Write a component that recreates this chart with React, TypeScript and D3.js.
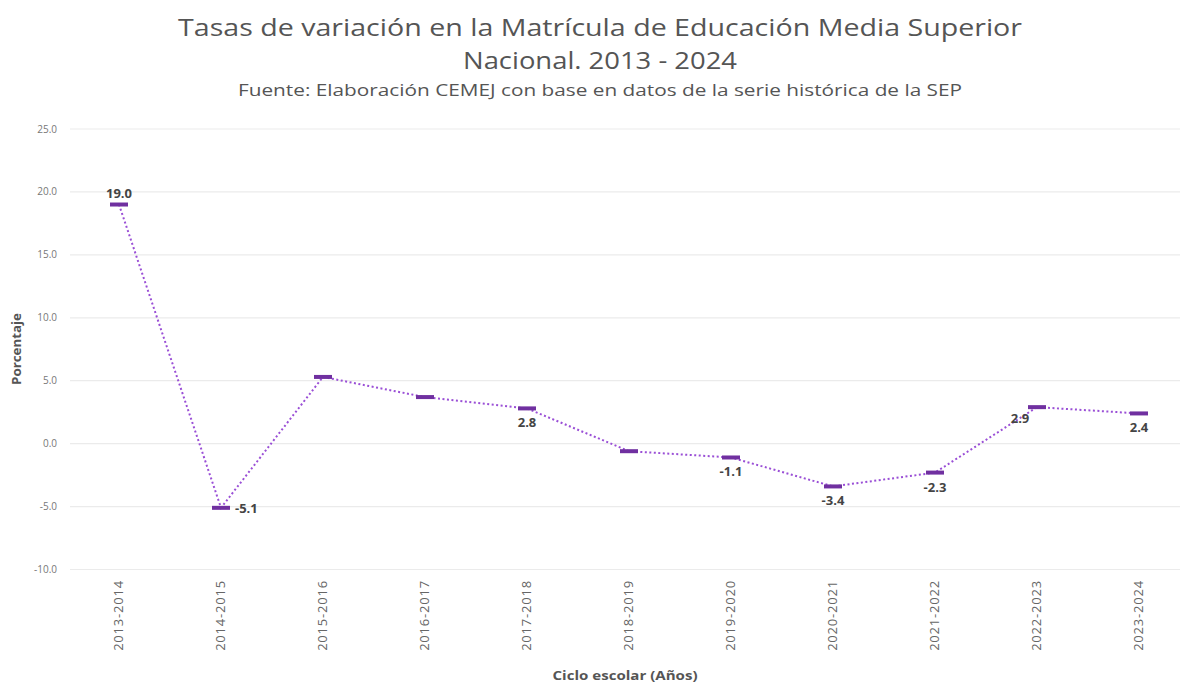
import { useEffect, useRef } from "react";
import * as d3 from "d3";

const CYCLES = [
  "2013-2014", "2014-2015", "2015-2016", "2016-2017", "2017-2018", "2018-2019",
  "2019-2020", "2020-2021", "2021-2022", "2022-2023", "2023-2024",
];
const RATES = [19.0, -5.1, 5.3, 3.7, 2.8, -0.6, -1.1, -3.4, -2.3, 2.9, 2.4];
// which points carry a value label, and where it sits
const LABEL_POS = ["above", "right", "", "", "below", "", "below", "below", "below", "left", "below"];
const Y_TICKS = [-10, -5, 0, 5, 10, 15, 20, 25];

const W = 1180;
const H = 685;
const FONT = "'Open Sans', 'Noto Sans', sans-serif";

export default function App() {
  const ref = useRef<SVGSVGElement>(null);

  useEffect(() => {
    const svg = d3.select(ref.current);
    svg.selectAll("*").remove();

    const x = d3.scalePoint<string>().domain(CYCLES).range([68, 1190]).padding(0.5);
    const y = d3.scaleLinear().domain([-10, 25]).range([569.5, 129]);

    // Titles (stretched to the reference width)
    const title = (txt: string, yy: number, size: number, len: number) =>
      svg.append("text")
        .attr("x", 600).attr("y", yy)
        .attr("text-anchor", "middle")
        .attr("font-family", FONT).attr("font-size", size)
        .attr("fill", "#555")
        .attr("textLength", len)
        .attr("lengthAdjust", "spacingAndGlyphs")
        .text(txt);
    title("Tasas de variación en la Matrícula de Educación Media Superior", 36, 24, 844);
    title("Nacional. 2013 - 2024", 69, 24, 274);
    title("Fuente: Elaboración CEMEJ con base en datos de la serie histórica de la SEP", 96, 16, 724);

    // Grid + y ticks
    const grid = svg.append("g");
    Y_TICKS.forEach(t => {
      grid.append("line")
        .attr("x1", 70).attr("x2", W)
        .attr("y1", y(t)).attr("y2", y(t))
        .attr("stroke", "#ebebeb").attr("stroke-width", 1.2);
      grid.append("text")
        .attr("x", 57).attr("y", y(t) + 3.5)
        .attr("text-anchor", "end")
        .attr("font-family", FONT).attr("font-size", 10)
        .attr("fill", "#777")
        .text(t.toFixed(1));
    });

    // x tick labels
    CYCLES.forEach(c => {
      svg.append("text")
        .attr("transform", `translate(${x(c)! + 4},${580}) rotate(-90)`)
        .attr("text-anchor", "end")
        .attr("font-family", FONT).attr("font-size", 13)
        .attr("letter-spacing", 0.8)
        .attr("fill", "#666")
        .text(c);
    });

    // axis titles
    svg.append("text")
      .attr("transform", `translate(21,${349}) rotate(-90)`)
      .attr("text-anchor", "middle")
      .attr("font-family", FONT).attr("font-size", 13).attr("font-weight", "bold")
      .attr("fill", "#555")
      .attr("textLength", 72)
      .attr("lengthAdjust", "spacingAndGlyphs")
      .text("Porcentaje");
    svg.append("text")
      .attr("x", 625).attr("y", 680)
      .attr("text-anchor", "middle")
      .attr("font-family", FONT).attr("font-size", 12).attr("font-weight", "bold")
      .attr("fill", "#555")
      .attr("textLength", 145)
      .attr("lengthAdjust", "spacingAndGlyphs")
      .text("Ciclo escolar (Años)");

    // dotted line
    const line = d3.line<number>()
      .x((_, i) => x(CYCLES[i])!)
      .y(d => y(d));
    svg.append("path")
      .datum(RATES)
      .attr("d", line)
      .attr("fill", "none")
      .attr("stroke", "#9a4fd6")
      .attr("stroke-width", 2)
      .attr("stroke-dasharray", "2,2.5");

    // markers
    svg.selectAll("rect.mk")
      .data(RATES)
      .enter()
      .append("rect")
      .attr("class", "mk")
      .attr("x", (_, i) => x(CYCLES[i])! - 9)
      .attr("y", d => y(d) - 2)
      .attr("width", 18)
      .attr("height", 4)
      .attr("fill", "#7030a0");

    // value labels
    RATES.forEach((v, i) => {
      const pos = LABEL_POS[i];
      if (!pos) return;
      const cx = x(CYCLES[i])!;
      const cy = y(v);
      let lx = cx, ly = cy, anchor = "middle";
      if (pos === "above") { ly = cy - 7; }
      if (pos === "below") { ly = cy + 19; }
      if (pos === "right") { lx = cx + 14; ly = cy + 5; anchor = "start"; }
      if (pos === "left") { lx = cx - 17; ly = cy + 16; }
      svg.append("text")
        .attr("x", lx).attr("y", ly)
        .attr("text-anchor", anchor)
        .attr("font-family", FONT).attr("font-size", 13).attr("font-weight", "bold")
        .attr("fill", "#444")
        .text(v.toFixed(1));
    });
  }, []);

  return (
    <svg
      ref={ref}
      width={W}
      height={H}
      style={{ position: "absolute", left: 0, top: 0, background: "#fff" }}
    />
  );
}
